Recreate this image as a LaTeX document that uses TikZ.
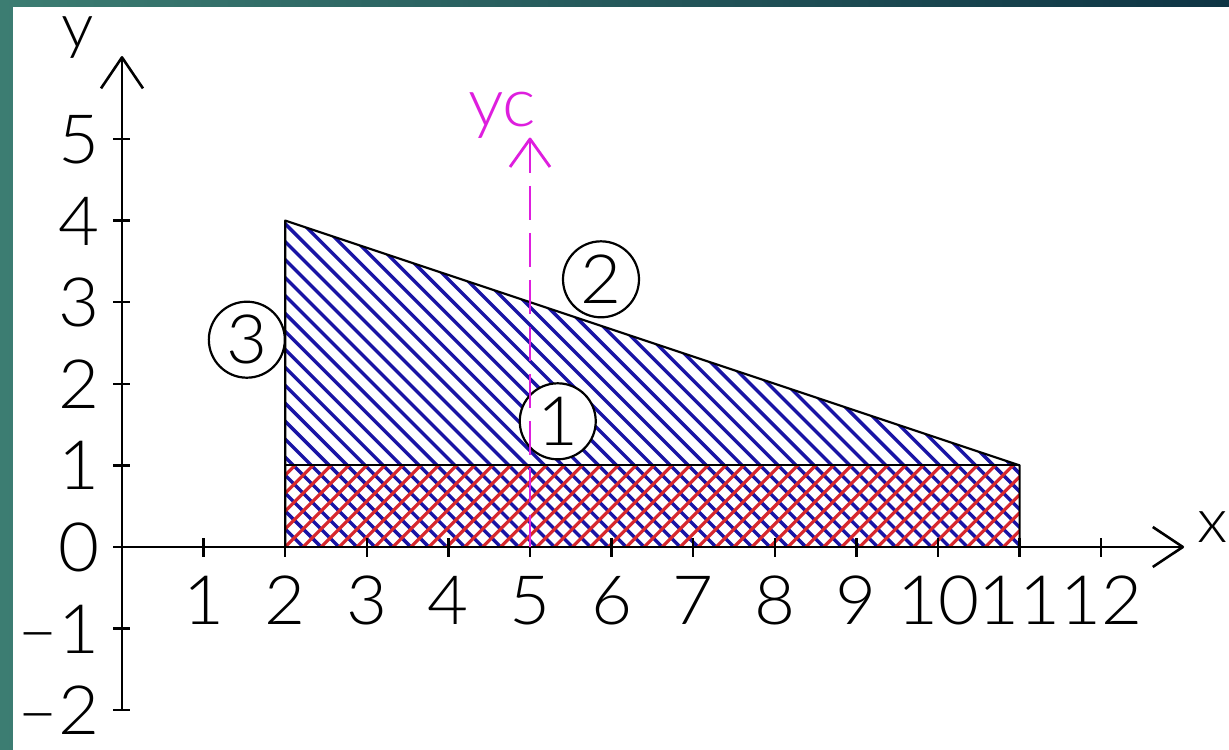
\documentclass[tikz,border=0pt]{standalone}
\usepackage{fontspec}
\newfontfamily\lbl{Lato Light}[FakeStretch=1.04]
\definecolor{hatchblue}{RGB}{25,20,165}
\definecolor{hatchred}{RGB}{215,40,45}
\definecolor{mag}{RGB}{222,30,222}
\definecolor{tealL}{RGB}{60,125,114}
\definecolor{tealR}{RGB}{14,52,68}
\begin{document}
\begin{tikzpicture}[x=40.8pt,y=40.8pt, line join=round,
  lbl/.style={font=\lbl\fontsize{34}{36}\selectfont, inner sep=0pt},
  axname/.style={font=\lbl\fontsize{31}{33}\selectfont, inner sep=0pt},
  axis/.style={line width=1.3pt},
  tickmark/.style={line width=1.2pt},
  outline/.style={line width=1.1pt},
  bh/.style={hatchblue, line width=1.7pt},
  rh/.style={hatchred, line width=1.6pt},
  num/.style={circle, draw, line width=1.1pt, fill=white, minimum size=38pt, inner sep=0pt, font=\lbl\fontsize{34}{36}\selectfont},
  magline/.style={mag, line width=1.4pt}]
\useasboundingbox (-1.495,-2.488) rectangle (13.566,6.703);
\shade[left color=tealL, right color=tealR] (-1.495,-2.488) rectangle (13.566,6.703);
\fill[white] (-1.336,-2.488) rectangle (13.566,6.618);

% hatching
\begin{scope}
  \clip (2,0) -- (2,4) -- (11,1) -- (11,0) -- cycle;
  \foreach \i in {0,...,48} \draw[bh] ({2+0.22*\i},0) -- ++(-4.5,4.5);
\end{scope}
\begin{scope}
  \clip (2,0) rectangle (11,1);
  \foreach \i in {0,...,50} \draw[rh] ({0.9+0.22*\i},0) -- ++(1.2,1.2);
\end{scope}

% outline
\draw[outline] (2,0) -- (2,4) -- (11,1) -- (11,0);
\draw[outline] (2,1) -- (11,1);

% axes
\draw[axis] (-0.11,0) -- (13,0);
\draw[axis] (0,-2) -- (0,6);
\draw[axis] (-0.257,5.62) -- (0,6) -- (0.257,5.62);
\draw[axis] (12.632,0.245) -- (13,0) -- (12.632,-0.245);
\foreach \k in {1,...,12} \draw[tickmark] (\k,-0.12) -- (\k,0.11);
\foreach \k in {-2,-1,1,2,3,4,5} \draw[tickmark] (-0.11,\k) -- (0.1,\k);

% tick labels
\foreach \k in {1,...,12} \node[lbl, anchor=base] (xl\k) at (\k,-0.956) {\k};
\foreach \k in {0,...,5} \node[lbl, anchor=base east] (yl\k) at (-0.27,\k-0.30) {\k};
\node[lbl, anchor=base east] (ylm1) at (-0.27,-1.30) {–1};
\node[lbl, anchor=base east] (ylm2) at (-0.27,-2.30) {–2};

% axis names
\node[axname, anchor=base] (ylab) at (-0.54,6.12) {y};
\node[axname, anchor=base] (xlab) at (13.36,0.05) {x};

% circled numbers
\node[num] (c3) at (1.53,2.54) {3};
\node[num] (c2) at (5.87,3.28) {2};
\node[num] (c1) at (5.34,1.54) {1};

% yc axis
\draw[magline, dash pattern=on 17pt off 6.5pt] (5,5) -- (5,0);
\draw[magline] (4.755,4.657) -- (5,5) -- (5.245,4.657);
\node[lbl, anchor=base, text=mag] (yc) at (4.657,5.147) {yc};
\end{tikzpicture}
\end{document}
